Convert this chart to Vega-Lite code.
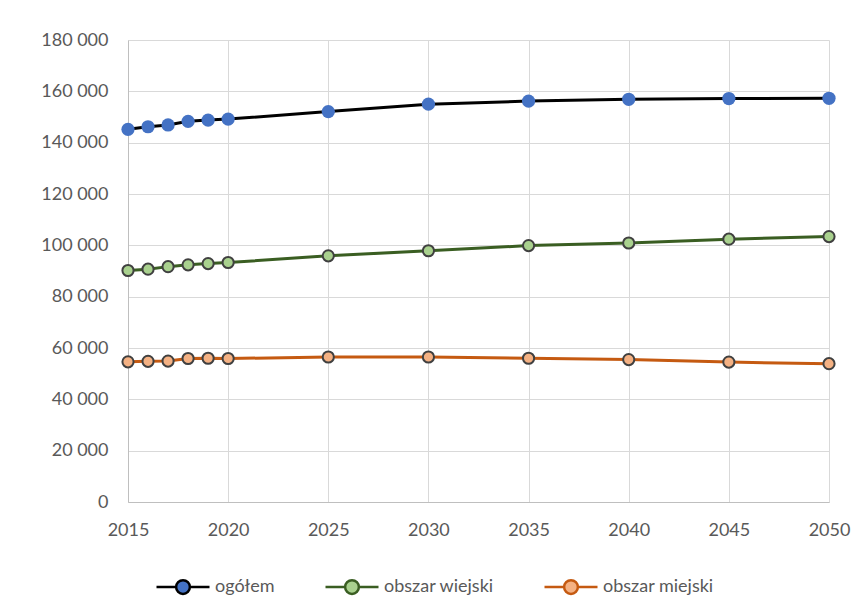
{
  "$schema": "https://vega.github.io/schema/vega-lite/v6.json",
  "width": 701,
  "height": 462,
  "autosize": {"type": "none"},
  "padding": {"left": 128, "top": 40, "right": 39, "bottom": 114},
  "background": "white",
  "config": {
    "locale": {"number": {"decimal": ",", "thousands": " ", "grouping": [3], "currency": ["", ""]}},
    "view": {"stroke": null},
    "font": "Lato",
    "axis": {"labelFont": "Lato", "labelFontSize": 18, "labelColor": "#595959", "gridColor": "#D9D9D9", "gridWidth": 1, "ticks": false, "domainColor": "#BFBFBF", "domainWidth": 1, "title": null},
    "legend": {"labelFont": "Lato", "labelFontSize": 18, "labelColor": "#595959", "padding": 0}
  },
  "data": {"values": [
    {"year": 2015, "series": "ogółem", "value": 145200},
    {"year": 2016, "series": "ogółem", "value": 146200},
    {"year": 2017, "series": "ogółem", "value": 146900},
    {"year": 2018, "series": "ogółem", "value": 148300},
    {"year": 2019, "series": "ogółem", "value": 148800},
    {"year": 2020, "series": "ogółem", "value": 149200},
    {"year": 2025, "series": "ogółem", "value": 152100},
    {"year": 2030, "series": "ogółem", "value": 155000},
    {"year": 2035, "series": "ogółem", "value": 156200},
    {"year": 2040, "series": "ogółem", "value": 156900},
    {"year": 2045, "series": "ogółem", "value": 157200},
    {"year": 2050, "series": "ogółem", "value": 157300},
    {"year": 2015, "series": "obszar wiejski", "value": 90200},
    {"year": 2016, "series": "obszar wiejski", "value": 90700},
    {"year": 2017, "series": "obszar wiejski", "value": 91700},
    {"year": 2018, "series": "obszar wiejski", "value": 92400},
    {"year": 2019, "series": "obszar wiejski", "value": 92900},
    {"year": 2020, "series": "obszar wiejski", "value": 93300},
    {"year": 2025, "series": "obszar wiejski", "value": 95900},
    {"year": 2030, "series": "obszar wiejski", "value": 97900},
    {"year": 2035, "series": "obszar wiejski", "value": 99900},
    {"year": 2040, "series": "obszar wiejski", "value": 100900},
    {"year": 2045, "series": "obszar wiejski", "value": 102400},
    {"year": 2050, "series": "obszar wiejski", "value": 103400},
    {"year": 2015, "series": "obszar miejski", "value": 54600},
    {"year": 2016, "series": "obszar miejski", "value": 54800},
    {"year": 2017, "series": "obszar miejski", "value": 54900},
    {"year": 2018, "series": "obszar miejski", "value": 55900},
    {"year": 2019, "series": "obszar miejski", "value": 56000},
    {"year": 2020, "series": "obszar miejski", "value": 55900},
    {"year": 2025, "series": "obszar miejski", "value": 56500},
    {"year": 2030, "series": "obszar miejski", "value": 56500},
    {"year": 2035, "series": "obszar miejski", "value": 56000},
    {"year": 2040, "series": "obszar miejski", "value": 55500},
    {"year": 2045, "series": "obszar miejski", "value": 54500},
    {"year": 2050, "series": "obszar miejski", "value": 53900}
  ]},
  "encoding": {
    "x": {"field": "year", "type": "quantitative", "scale": {"domain": [2015, 2050], "nice": false, "zero": false},
      "axis": {"values": [2015, 2020, 2025, 2030, 2035, 2040, 2045, 2050], "format": "d", "labelPadding": 19, "labelFlush": false}},
    "y": {"field": "value", "type": "quantitative", "scale": {"domain": [0, 180000], "nice": false},
      "axis": {"values": [0, 20000, 40000, 60000, 80000, 100000, 120000, 140000, 160000, 180000], "format": ",d", "labelPadding": 20}}
  },
  "layer": [
    {
      "mark": {"type": "line", "strokeWidth": 3},
      "encoding": {
        "stroke": {"field": "series", "type": "nominal",
          "scale": {"domain": ["ogółem", "obszar wiejski", "obszar miejski"], "range": ["#000000", "#3A5E22", "#C55A11"]},
          "legend": {"title": null, "orient": "none", "direction": "horizontal", "legendX": 27, "legendY": 519,
            "symbolType": "M-1,0H-0.26M0.26,0H1M0.26,0A0.26,0.26,0,1,1,-0.26,0A0.26,0.26,0,1,1,0.26,0Z",
            "symbolSize": 2809, "symbolStrokeWidth": 2.5, "labelOffset": 4, "columnPadding": 45,
            "encode": {"symbols": {"update": {
              "fill": {"signal": "datum.value === 'ogółem' ? '#4472C4' : datum.value === 'obszar wiejski' ? '#A9D18E' : '#F4B183'"},
              "fillOpacity": {"value": 1}, "opacity": {"value": 1}}}}}
        }
      }
    },
    {
      "mark": {"type": "point", "filled": true, "opacity": 1, "stroke": "#404040"},
      "encoding": {
        "fill": {"field": "series", "type": "nominal", "legend": null,
          "scale": {"domain": ["ogółem", "obszar wiejski", "obszar miejski"], "range": ["#4472C4", "#A9D18E", "#F4B183"]}},
        "size": {"condition": {"test": "datum.series === 'ogółem'", "value": 175}, "value": 125},
        "strokeWidth": {"condition": {"test": "datum.series === 'ogółem'", "value": 0}, "value": 2}
      }
    }
  ]
}
